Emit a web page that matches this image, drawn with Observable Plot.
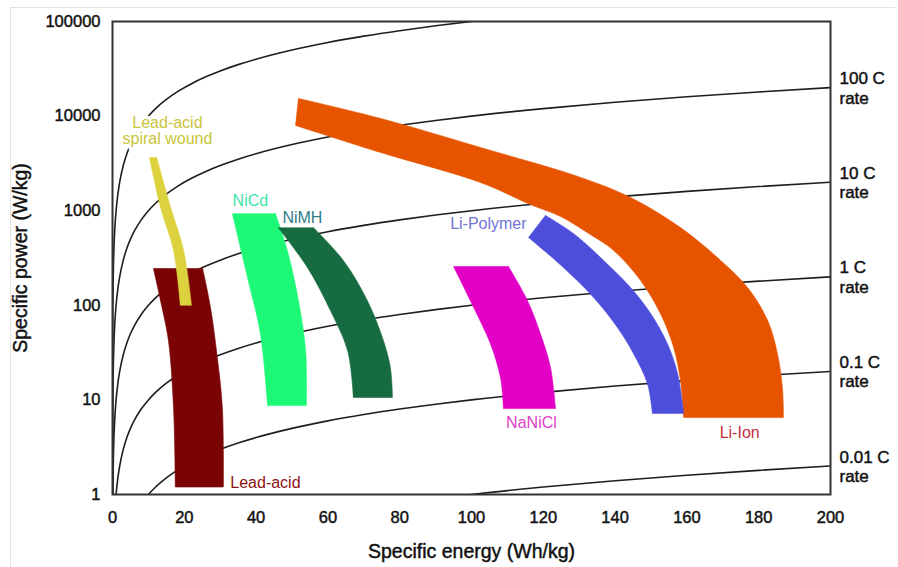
<!DOCTYPE html>
<html><head><meta charset="utf-8">
<script src="https://cdn.jsdelivr.net/npm/d3@7"></script>
<script src="https://cdn.jsdelivr.net/npm/@observablehq/plot@0.6"></script>
<style>
body{margin:0;background:#fff;}
#wrap{position:relative;width:898px;height:567px;overflow:hidden;}
#edge{position:absolute;left:10px;top:7px;width:884px;height:570px;border-top:1px solid #e3e3e3;border-left:1px solid #e3e3e3;pointer-events:none;}
g[aria-label$="tick label"] text{stroke:#111;stroke-width:0.45px;}
</style></head><body>
<div id="wrap"><div id="chart"></div><div id="edge"></div></div>
<script>
// Axis ticks
const xTicks = [0, 20, 40, 60, 80, 100, 120, 140, 160, 180, 200];
const yTicks = [1, 10, 100, 1000, 10000, 100000];

// C-rate reference lines: specific power = C-rate x specific energy
const cRates = [0.01, 0.1, 1, 10, 100, 1000];
const cRateLabelRates = [0.01, 0.1, 1, 10, 100];
const cRateLabels = ["0.01 C\nrate", "0.1 C\nrate", "1 C\nrate", "10 C\nrate", "100 C\nrate"];
const energySamples = [0.0005, 0.001, 0.002, 0.005, 0.01, 0.02, 0.05, 0.1, 0.2, 0.4, 0.7, 1, 1.5, 2, 3, 4, 5, 6, 8, 10, 12, 15, 18, 22, 26, 30, 35, 40, 50, 60, 70, 80, 90, 100, 120, 140, 160, 180, 200];

// Battery regions: each has an outer (right) edge and an inner (left) edge,
// both listed from top to bottom as [specific energy Wh/kg, specific power W/kg]
const leadAcidOuter = [[25.1,245],[27.3,95],[29.2,28],[30.6,8.3],[30.9,1.2]];
const leadAcidInner = [[11.4,245],[13.8,95],[15.6,42],[17.0,8.3],[17.5,1.2]];
const spiralOuter = [[12.3,3650],[16.2,1080],[19.8,380],[22.0,100]];
const spiralInner = [[10.3,3650],[13.4,1080],[17.0,380],[18.9,100]];
const niCdOuter = [[45.4,930],[48.7,380],[51.8,112],[53.8,33],[54.0,8.7]];
const niCdInner = [[33.4,930],[37.6,197],[41.2,50],[43.2,8.7]];
const niMHOuter = [[56.0,660],[64.3,298],[71.0,112],[75.5,42],[77.4,22],[78.0,10.6]];
const niMHInner = [[46.2,660],[54.3,251],[60.7,88],[65.5,33],[67.1,10.6]];
const naNiClOuter = [[110.3,257],[115.6,112],[119.2,50],[122.0,22],[123.4,8.1]];
const naNiClInner = [[95.0,257],[100.6,95],[105.3,39],[108.1,17],[108.9,8.1]];
const liIonOuter = [[51.8,15350],[74.7,9440],[102.5,4660],[130.4,2250],[144.3,1380],[158.2,664],[169.4,298],[176.9,154],[182.5,69],[185.2,31],[186.6,13.5],[186.9,6.5]];
const liIonInner = [[51.0,7960],[74.7,4124],[102.5,1986],[116.4,1163],[124.8,868],[133.1,560],[139.6,380],[147.1,183],[152.6,82],[156.3,36],[158.2,16],[159.1,6.5]];
const liPolyOuter = [[120.6,890],[128.4,574],[136.8,298],[144.3,154],[149.9,82],[154.6,39],[157.4,19],[159.1,7.2]];
const liPolyInner = [[115.9,521],[125.6,251],[134.0,121],[140.7,58],[145.1,31],[149.0,14.9],[150.4,7.2]];

const bandNames = ["Lead-acid", "Lead-acid spiral wound", "NiCd", "NiMH", "NaNiCl", "Li-Ion", "Li-Polymer"];
const bandOuter = [leadAcidOuter, spiralOuter, niCdOuter, niMHOuter, naNiClOuter, liIonOuter, liPolyOuter];
const bandInner = [leadAcidInner, spiralInner, niCdInner, niMHInner, naNiClInner, liIonInner, liPolyInner];
const bandColors = ["#7a0303", "#dcd23e", "#1ef877", "#166b41", "#e300c6", "#e75400", "#4d4fdc"];

// Region labels
const labelTexts = ["Lead-acid\nspiral wound", "NiCd", "NiMH", "Li-Polymer", "NaNiCl", "Li-Ion", "Lead-acid"];
const labelE = [15.3, 38.4, 52.9, 104.7, 116.7, 174.7, 42.6];
const labelP = [7050, 1282, 847, 733, 5.77, 4.52, 1.34];
const labelColors = ["#c9c53a", "#3de6aa", "#2e7d88", "#7474d6", "#de3fc8", "#c43040", "#8c1414"];

// Build tables
const curveRows = cRates.flatMap(c => energySamples.map(e => ({c, E: e, P: c * e})));
const rateLabelRows = cRateLabelRates.map((c, i) => ({E: 200, P: c * 200, text: cRateLabels[i]}));
const labelRows = labelTexts.map((t, i) => ({text: t, E: labelE[i], P: labelP[i], color: labelColors[i]}));

// Outline: outer edge top->bottom, then inner edge bottom->top; corners doubled so the
// Catmull-Rom curve keeps them sharp and the caps straight.
function outline(outer, inner) {
  const o = outer.slice(), r = inner.slice().reverse();
  return [o[0], ...o, o[o.length - 1], r[0], ...r, r[r.length - 1], o[0], o[0]];
}

const font = "'Liberation Sans', Arial, Helvetica, sans-serif";
const dark = "#111";

const marks = [
  Plot.line(curveRows, {x: "E", y: "P", z: "c", stroke: "#1e1e1e", strokeWidth: 1.6, curve: "monotone-x", clip: true}),
  ...bandOuter.map((outer, i) => Plot.line(outline(outer, bandInner[i]), {
    x: d => d[0], y: d => d[1], fill: bandColors[i], stroke: bandColors[i], strokeWidth: 0.6, curve: "catmull-rom"})),
  Plot.text(labelRows, {x: "E", y: "P", text: "text", fill: "color", fontSize: 16, lineHeight: 1.0, textAnchor: "middle", lineAnchor: "middle",
    stroke: (d, i) => i === 0 ? "white" : "none", strokeWidth: 7, strokeLinejoin: "round", paintOrder: "stroke"}),
  Plot.text(rateLabelRows, {x: "E", y: "P", text: "text", dx: 9, textAnchor: "start", lineAnchor: "middle", fontSize: 17, lineHeight: 1.15, fill: dark, stroke: dark, strokeWidth: 0.45}),
  Plot.axisX({ticks: xTicks, tickSize: 0, tickPadding: 17, label: null, fontSize: 16.5, fill: dark}),
  Plot.axisY({ticks: yTicks, tickSize: 0, tickPadding: 12, label: null, tickFormat: d3.format("d"), fontSize: 16.5, fill: dark}),
  Plot.text(["Specific energy (Wh/kg)"], {frameAnchor: "bottom", dy: 57, lineAnchor: "middle", textAnchor: "middle", fontSize: 19.5, fill: dark, stroke: dark, strokeWidth: 0.45}),
  Plot.text(["Specific power (W/kg)"], {frameAnchor: "left", dx: -92, rotate: -90, lineAnchor: "middle", textAnchor: "middle", fontSize: 19.5, fill: dark, stroke: dark, strokeWidth: 0.45}),
  Plot.frame({stroke: "#333", strokeWidth: 2})
];

const chart = Plot.plot({
  width: 898,
  height: 567,
  marginLeft: 112,
  marginRight: 68,
  marginTop: 21,
  marginBottom: 73,
  style: {fontFamily: font, fontSize: "16px", background: "white", color: dark},
  x: {domain: [0, 200]},
  y: {type: "log", domain: [1, 100000]},
  marks
});
document.getElementById("chart").appendChild(chart);
</script>
</body></html>
